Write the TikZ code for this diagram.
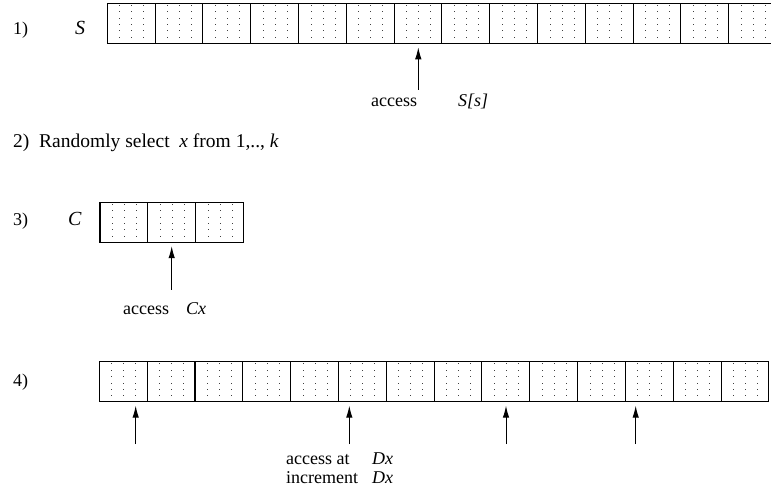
\documentclass[tikz,border=0pt]{standalone}
\usepackage{fontspec}
\setmainfont{Liberation Serif}
\usetikzlibrary{arrows.meta}
\tikzset{
  lbl/.style={font=\fontsize{18}{21}\selectfont, inner sep=0pt, anchor=base west},
  biglbl/.style={font=\fontsize{19.5}{23}\selectfont, inner sep=0pt, anchor=base west},
  namelbl/.style={font=\fontsize{20}{24}\selectfont\itshape, inner sep=0pt, anchor=base west},
  cell/.style={draw, line width=1.1pt, minimum width=47.8pt, minimum height=40pt,
    inner sep=0pt, outer sep=0pt,
    path picture={
      \foreach \i in {12,24,36}{
        \foreach \j in {1.6,8,14.4,20.8,27.2,33.6}{
          \fill[black!75] ([xshift=\i pt, yshift=-\j pt]path picture bounding box.north west)
            rectangle +(0.9pt,-0.9pt);
        }
      }
    }},
  arr/.style={line width=1pt, -{Latex[length=12pt,width=6.5pt]}, shorten >=4pt}
}
\begin{document}
\begin{tikzpicture}[x=1pt,y=-1pt]
\useasboundingbox (0,0) rectangle (771,494);
% row 1
\foreach \k in {0,...,13}{
  \node[cell] (s\k) at ({107.3+23.9+47.8*\k}, 23.3) {};
}
\node[lbl] (n1) at (13,35) {1)};
\node[namelbl] (sS) at (75,35) {S};
\coordinate (a1) at (418.3,90);
\draw[arr] (a1) -- (s6.south -| a1);
\node[lbl] (acc1) at (371,107) {access};
\node[lbl] (ss1) at (458,107) {\textit{S[s]}};
% row 2
\node[biglbl] (n2) at (13,148) {2)\ \ Randomly select \ \textit{x} from 1,.., \textit{k}};
% row 3
\foreach \k in {0,1,2}{
  \node[cell] (c\k) at ({100+23.9+47.8*\k}, 222.2) {};
}
\node[lbl] (n3) at (13,226) {3)};
\node[namelbl] (cC) at (68,226) {C};
\coordinate (a3) at (171.7,290);
\draw[arr] (a3) -- (c1.south -| a3);
\node[lbl] (acc3) at (123,315) {access};
\node[lbl] (cx3) at (186,315) {\textit{Cx}};
% row 4
\foreach \k in {0,...,13}{
  \node[cell] (d\k) at ({99.3+23.9+47.83*\k}, 381.7) {};
}
\node[lbl] (n4) at (13,386) {4)};
\coordinate (b1) at (135.7,444);
\coordinate (b2) at (349.3,444);
\coordinate (b3) at (506,444);
\coordinate (b4) at (635.7,444);
\draw[arr] (b1) -- (d0.south -| b1);
\draw[arr] (b2) -- (d5.south -| b2);
\draw[arr] (b3) -- (d8.south -| b3);
\draw[arr] (b4) -- (d11.south -| b4);
\node[lbl] (acc4) at (286,464) {access at};
\node[lbl] (dx1) at (372,464) {\textit{Dx}};
\node[lbl] (inc4) at (286,483) {increment};
\node[lbl] (dx2) at (372,483) {\textit{Dx}};
\end{tikzpicture}
\end{document}
